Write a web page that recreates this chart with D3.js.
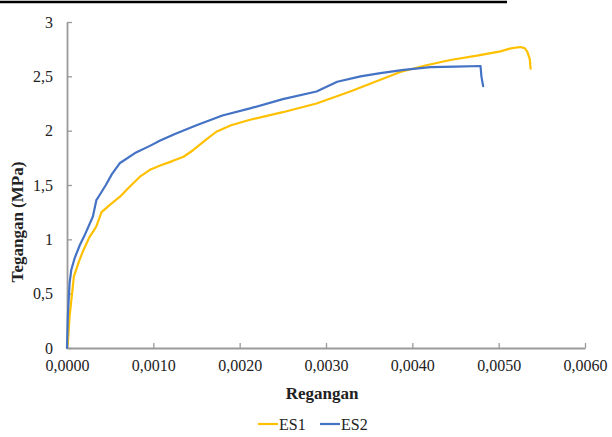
<!DOCTYPE html>
<html>
<head>
<meta charset="utf-8">
<script src="https://cdn.jsdelivr.net/npm/d3@7"></script>
<style>
  html, body { margin: 0; padding: 0; background: #fff; }
  svg { display: block; }
  text { font-family: "Liberation Serif", "Times New Roman", serif; fill: #222; }
</style>
</head>
<body>
<svg id="chart" width="612" height="437"></svg>
<script>
// Stress–strain curves of the two specimens
const seriesNames = ["ES1", "ES2"];
const seriesColors = ["#FFC000", "#4472C4"];

const es1Strain = [0, 0.00001, 0.00003, 0.00008, 0.00014, 0.00019, 0.00026, 0.00031, 0.00034, 0.00040, 0.00050,
  0.00061, 0.00072, 0.00085, 0.00096, 0.00108, 0.00122, 0.00135, 0.00146, 0.00160, 0.00173, 0.00190,
  0.00212, 0.00250, 0.00289, 0.00328, 0.00360, 0.00386, 0.00415, 0.00444, 0.00475, 0.00502, 0.00513,
  0.00520, 0.00525, 0.00530, 0.00533, 0.00536, 0.00537];
const es1Stress = [0, 0.05, 0.29, 0.66, 0.80, 0.90, 1.02, 1.08, 1.12, 1.25, 1.32,
  1.39, 1.48, 1.58, 1.64, 1.68, 1.72, 1.76, 1.82, 1.91, 1.99, 2.05,
  2.10, 2.17, 2.25, 2.36, 2.46, 2.54, 2.60, 2.65, 2.69, 2.73, 2.755,
  2.765, 2.77, 2.76, 2.73, 2.66, 2.57];

const es2Strain = [0, 0.00001, 0.00003, 0.00005, 0.00009, 0.00015, 0.00020, 0.00030, 0.00034, 0.00038, 0.00045,
  0.00052, 0.00061, 0.00080, 0.00096, 0.00108, 0.00125, 0.00150, 0.00180, 0.00212, 0.00250, 0.00289,
  0.00313, 0.00340, 0.00363, 0.00390, 0.00421, 0.00450, 0.00479, 0.00480, 0.00482];
const es2Stress = [0, 0.30, 0.60, 0.72, 0.83, 0.95, 1.03, 1.21, 1.36, 1.41, 1.50,
  1.60, 1.70, 1.80, 1.86, 1.91, 1.97, 2.05, 2.14, 2.205, 2.29, 2.36,
  2.45, 2.50, 2.53, 2.56, 2.585, 2.59, 2.595, 2.50, 2.41];

const xTicks = [0, 0.001, 0.002, 0.003, 0.004, 0.005, 0.006];
const yTicks = [0, 0.5, 1, 1.5, 2, 2.5, 3];

const svg = d3.select("#chart");
const plotLeft = 67, plotRight = 585, plotTop = 22, plotBottom = 348;

const x = d3.scaleLinear().domain([0, 0.006]).range([plotLeft, plotRight]);
const y = d3.scaleLinear().domain([0, 3]).range([plotBottom, plotTop]);

const fmtX = v => d3.format(".4f")(v).replace(".", ",");
const fmtY = v => String(v).replace(".", ",");
const serif = "'Liberation Serif', 'Times New Roman', serif";

// Rule across the top of the figure
svg.append("line")
  .attr("x1", 0).attr("x2", 507).attr("y1", 2).attr("y2", 2)
  .attr("stroke", "#000").attr("stroke-width", 2.5);

// X axis with inward ticks
const xAxis = svg.append("g")
  .attr("transform", `translate(0,${plotBottom})`)
  .call(d3.axisBottom(x).tickValues(xTicks).tickFormat(fmtX).tickSizeInner(-5).tickSizeOuter(0).tickPadding(12));
xAxis.attr("font-family", serif);
xAxis.select(".domain").attr("stroke", "#9a9a9a").attr("stroke-width", 1.8);
xAxis.selectAll(".tick line").attr("stroke", "#9a9a9a").attr("stroke-width", 1.3);
xAxis.selectAll(".tick text").attr("font-size", 16).attr("fill", "#222");

// Y axis with inward ticks
const yAxis = svg.append("g")
  .attr("transform", `translate(${plotLeft},0)`)
  .call(d3.axisLeft(y).tickValues(yTicks).tickFormat(fmtY).tickSizeInner(-5).tickSizeOuter(0).tickPadding(14));
yAxis.attr("font-family", serif);
yAxis.select(".domain").attr("stroke", "#9a9a9a").attr("stroke-width", 1.8);
yAxis.selectAll(".tick line").attr("stroke", "#9a9a9a").attr("stroke-width", 1.3);
yAxis.selectAll(".tick text").attr("font-size", 16).attr("fill", "#222");

// Curves
const curves = [
  d3.zip(es1Strain, es1Stress),
  d3.zip(es2Strain, es2Stress)
];
const lineGen = d3.line().x(d => x(d[0])).y(d => y(d[1])).curve(d3.curveLinear);
curves.forEach((pts, i) => {
  svg.append("path")
    .datum(pts)
    .attr("fill", "none")
    .attr("stroke", seriesColors[i])
    .attr("stroke-width", 2.2)
    .attr("stroke-linejoin", "round")
    .attr("stroke-linecap", "round")
    .attr("d", lineGen);
});

// Axis titles
svg.append("text")
  .attr("x", 322).attr("y", 399)
  .attr("text-anchor", "middle")
  .attr("font-size", 17).attr("font-weight", "bold")
  .text("Regangan");

svg.append("text")
  .attr("transform", "translate(23,222) rotate(-90)")
  .attr("text-anchor", "middle")
  .attr("font-size", 17).attr("font-weight", "bold")
  .text("Tegangan (MPa)");

// Legend
const legend = svg.append("g").attr("transform", "translate(258,424)");
const legendX = [0, 62];
seriesNames.forEach((name, i) => {
  const g = legend.append("g").attr("transform", `translate(${legendX[i]},0)`);
  g.append("line").attr("x1", 0).attr("x2", 20).attr("y1", 0).attr("y2", 0)
    .attr("stroke", seriesColors[i]).attr("stroke-width", 2.2);
  g.append("text").attr("x", 21).attr("y", 5.5)
    .attr("font-size", 16).text(name);
});
</script>
</body>
</html>
